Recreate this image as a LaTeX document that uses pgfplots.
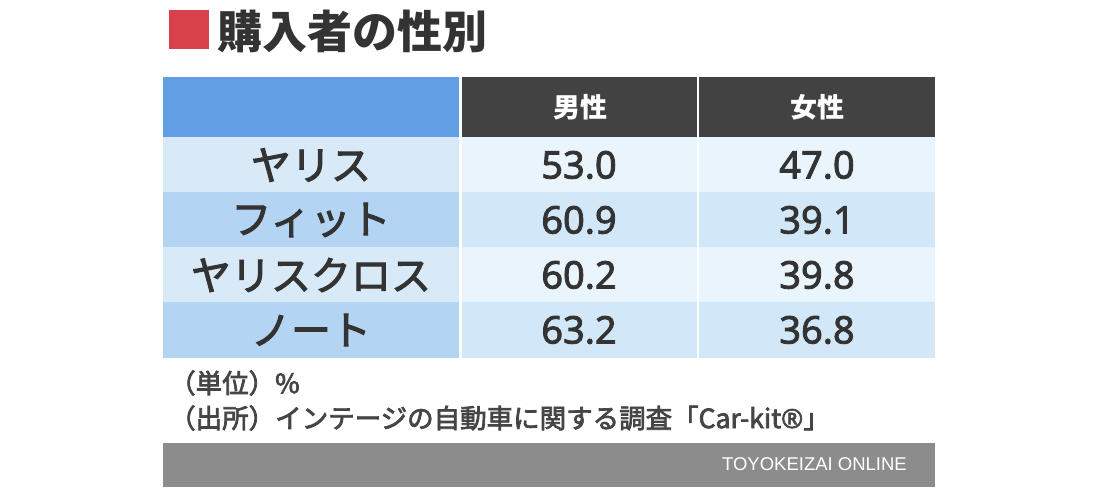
\documentclass[border=0pt]{standalone}
\usepackage{pgfplots}
\pgfplotsset{compat=1.18}
\usepackage{pgfplotstable}
\usepackage{fontspec}
\setmainfont{Noto Sans CJK JP}
\newfontfamily\medfont[FakeBold=2.6]{Noto Sans CJK JP}
\newfontfamily\footfont[FakeBold=2.8]{Noto Sans CJK JP}
\newfontfamily\numfont[FakeBold=2.2]{Noto Sans}
\newfontfamily\logofont{Liberation Sans}
\newcommand\fs[1]{\fontsize{#1bp}{#1bp}\selectfont}
\definecolor{txt}{HTML}{333333}
\definecolor{foottxt}{HTML}{454545}
\definecolor{redsq}{HTML}{D9414A}
\definecolor{hdblue}{HTML}{619EE3}
\definecolor{hdgray}{HTML}{424242}
\definecolor{rowA}{HTML}{D8E9F8}
\definecolor{rowB}{HTML}{B3D5F3}
\definecolor{cellA}{HTML}{EAF4FC}
\definecolor{cellB}{HTML}{D2E8F8}
\definecolor{foot}{HTML}{8C8C8C}
\pgfplotstableread[col sep=comma]{
y,car,male,female
165,ヤリス,53.0,47.0
220,フィット,60.9,39.1
275,ヤリスクロス,60.2,39.8
330,ノート,63.2,36.8
}\shares
\begin{document}
\begin{tikzpicture}
\begin{axis}[width=1100bp,height=487bp,scale only axis,
  xmin=0,xmax=1100,ymin=0,ymax=487,y dir=reverse,
  hide axis,clip=false,enlargelimits=false]
% page background
\addplot[fill=white,draw=none] coordinates {(0,0)(1100,0)(1100,487)(0,487)} -- cycle;
% title square
\addplot[fill=redsq,draw=none] coordinates {(169,10)(209,10)(209,49)(169,49)} -- cycle;
% header
\addplot[fill=hdblue,draw=none] coordinates {(163,77)(459,77)(459,137)(163,137)} -- cycle;
\addplot[fill=hdgray,draw=none] coordinates {(462,77)(697,77)(697,137)(462,137)} -- cycle;
\addplot[fill=hdgray,draw=none] coordinates {(699,77)(935,77)(935,137)(699,137)} -- cycle;
% rows: first column
\addplot[fill=rowA,draw=none] coordinates {(163,137)(459,137)(459,192)(163,192)} -- cycle;
\addplot[fill=rowB,draw=none] coordinates {(163,192)(459,192)(459,247)(163,247)} -- cycle;
\addplot[fill=rowA,draw=none] coordinates {(163,247)(459,247)(459,302)(163,302)} -- cycle;
\addplot[fill=rowB,draw=none] coordinates {(163,302)(459,302)(459,358)(163,358)} -- cycle;
% rows: male column
\addplot[fill=cellA,draw=none] coordinates {(462,137)(697,137)(697,192)(462,192)} -- cycle;
\addplot[fill=cellB,draw=none] coordinates {(462,192)(697,192)(697,247)(462,247)} -- cycle;
\addplot[fill=cellA,draw=none] coordinates {(462,247)(697,247)(697,302)(462,302)} -- cycle;
\addplot[fill=cellB,draw=none] coordinates {(462,302)(697,302)(697,358)(462,358)} -- cycle;
% rows: female column
\addplot[fill=cellA,draw=none] coordinates {(699,137)(935,137)(935,192)(699,192)} -- cycle;
\addplot[fill=cellB,draw=none] coordinates {(699,192)(935,192)(935,247)(699,247)} -- cycle;
\addplot[fill=cellA,draw=none] coordinates {(699,247)(935,247)(935,302)(699,302)} -- cycle;
\addplot[fill=cellB,draw=none] coordinates {(699,302)(935,302)(935,358)(699,358)} -- cycle;
% footer bar
\addplot[fill=foot,draw=none] coordinates {(163,443)(935,443)(935,487)(163,487)} -- cycle;
% table text
\addplot[draw=none,mark=none,nodes near coords,point meta=explicit symbolic,
  nodes near coords style={anchor=center,text=txt,font=\medfont\fs{40}}]
  table[x expr=311,y=y,meta=car]{\shares};
\addplot[draw=none,mark=none,nodes near coords,point meta=explicit symbolic,
  nodes near coords style={anchor=center,text=txt,font=\numfont\fs{38}}]
  table[x expr=579,y=y,meta=male]{\shares};
\addplot[draw=none,mark=none,nodes near coords,point meta=explicit symbolic,
  nodes near coords style={anchor=center,text=txt,font=\numfont\fs{38}}]
  table[x expr=817,y=y,meta=female]{\shares};
% labels
\node[anchor=west,text=txt,font=\bfseries\fs{45},inner sep=0pt] at (axis cs:217,31) {購入者の性別};
\node[text=white,font=\bfseries\fs{27}] at (axis cs:580,107) {男性};
\node[text=white,font=\bfseries\fs{27}] at (axis cs:817,107) {女性};
\node[anchor=west,text=foottxt,font=\footfont\fs{26.5},inner sep=0pt] at (axis cs:169,383) {（単位）\%};
\node[anchor=west,text=foottxt,font=\footfont\fs{26.5},inner sep=0pt] at (axis cs:169,418) {（出所）インテージの自動車に関する調査「Car-kit{\numfont ®}」};
\node[anchor=east,text=white,font=\logofont\fs{18.5},inner sep=0pt] at (axis cs:907,464) {TOYOKEIZAI ONLINE};
\end{axis}
\end{tikzpicture}
\end{document}
